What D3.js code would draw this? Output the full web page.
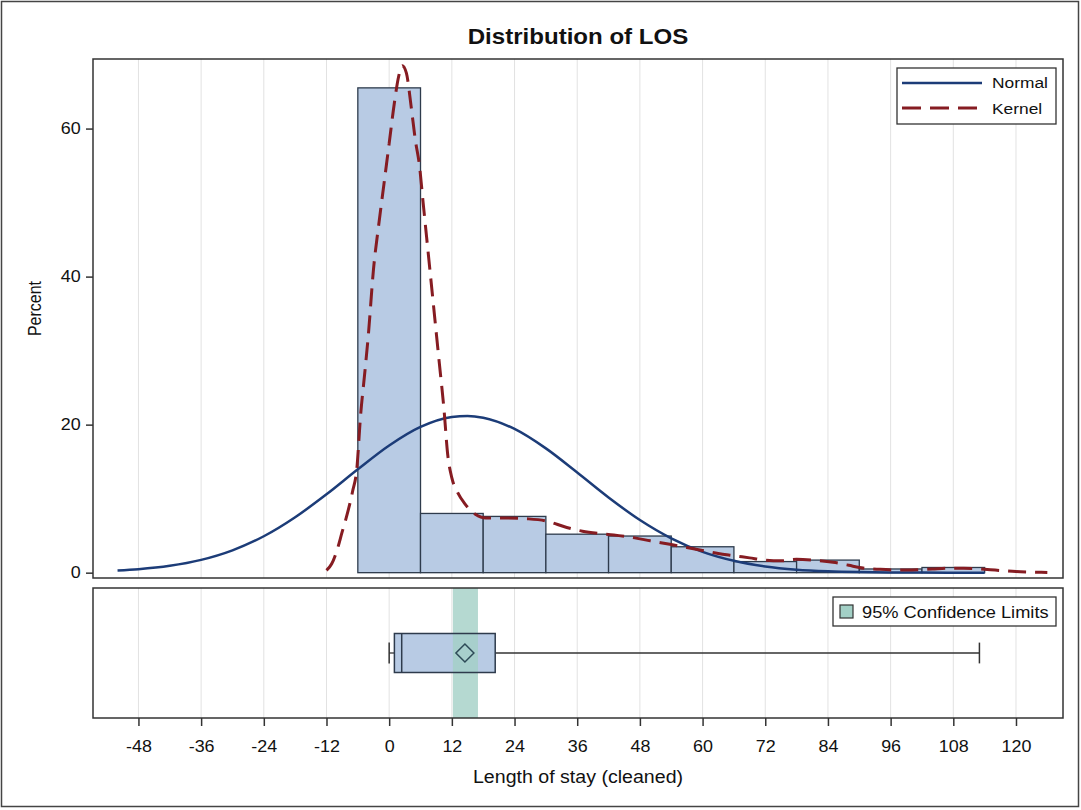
<html>
<head><meta charset="utf-8"></head>
<body style="margin:0; background:#fff">
<div id="chartContainer"></div>
<script src="https://cdnjs.cloudflare.com/ajax/libs/d3/7.8.5/d3.min.js"></script>
<script type="text/javascript">
  // Histogram bins (percent of patients per 12-day bin)
  var binStarts = [-6, 6, 18, 30, 42, 54, 66, 78, 90, 102];
  var binWidth = 12;
  var binPercents = [65.5, 8.0, 7.6, 5.2, 4.95, 3.5, 1.5, 1.7, 0.5, 0.7];

  // Fitted normal curve
  var normalPoints = [[-52, 0.28], [-48, 0.46], [-42, 0.92], [-36, 1.73], [-30, 3.02], [-24, 4.92],
    [-18, 7.49], [-12, 10.59], [-6, 13.97], [0, 17.19], [6, 19.7], [12, 21.04], [15, 21.18],
    [18, 20.94], [24, 19.42], [30, 16.79], [36, 13.53], [42, 10.16], [48, 7.11], [54, 4.64],
    [60, 2.81], [66, 1.6], [72, 0.84], [78, 0.41], [84, 0.19], [90, 0.08], [96, 0.03],
    [102, 0.01], [108, 0.0], [114, 0.0]];

  // Kernel density curve
  var kernelPoints = [[-12, 0.3], [-11, 1.2], [-10, 3.0], [-9, 5.5], [-8, 8.0], [-7, 11], [-6.2, 14],
    [-5.5, 21], [-4.6, 27.5], [-4, 32], [-3, 41], [-2, 47], [-1, 52.5], [0, 58], [1, 63.5],
    [1.8, 67], [2.5, 68.5], [3.3, 67.5], [4.2, 63], [5, 58.5], [5.8, 55], [6.5, 50], [7.5, 43],
    [8.5, 36], [9.5, 29], [10.5, 22], [11.2, 16], [12, 12.8], [13, 11], [14.5, 9.3], [16.5, 7.9],
    [18.5, 7.4], [22, 7.4], [26, 7.3], [30, 7.0], [34, 6.1], [37, 5.6], [40, 5.3], [43, 5.1],
    [47, 4.7], [50, 4.3], [54, 3.8], [57, 3.4], [60, 3.0], [63, 2.6], [66, 2.3], [69, 2.0],
    [72, 1.7], [75, 1.6], [78, 1.8], [81, 1.7], [85, 1.4], [88, 1.0], [90, 0.7], [94, 0.45],
    [98, 0.35], [101, 0.4], [104, 0.5], [107, 0.6], [110, 0.6], [113, 0.5], [116, 0.35],
    [120, 0.15], [123, 0.08], [126, 0.03]];

  // Box plot summary
  var boxMin = 0, boxQ1 = 1, boxMedian = 2.4, boxQ3 = 20.3, boxMax = 113, boxMean = 14.5;
  var clLower = 12.2, clUpper = 17.0;

  // Axis ticks
  var xTicks = [-48, -36, -24, -12, 0, 12, 24, 36, 48, 60, 72, 84, 96, 108, 120];
  var yTicks = [0, 20, 40, 60];

  var font = "'Liberation Sans', Arial, sans-serif";
  var histFill = "#b8cbe4", outline = "#2e3b4c";
  var normalColor = "#1c3c78", kernelColor = "#861c22", clColor = "#a3d0c6";
  var stretch = 1.12;   // the original text renders a little wide

  var svg = d3.select("#chartContainer").append("svg")
    .attr("width", 1081).attr("height", 810)
    .style("font-family", font);

  // adds a horizontally widened text label
  function label(g, px, py, str, size, anchor, weight) {
    return g.append("text")
      .attr("transform", "translate(" + px + "," + py + ") scale(" + stretch + ",1)")
      .attr("text-anchor", anchor || "start")
      .style("font-size", size + "px")
      .style("font-weight", weight || "normal")
      .attr("fill", "#111")
      .text(str);
  }

  // outer border
  svg.append("rect").attr("x", 1.5).attr("y", 1.5).attr("width", 1077).attr("height", 805)
    .attr("fill", "none").attr("stroke", "#444").attr("stroke-width", 1.5);

  // panel bounds
  var left = 93, right = 1063;
  var mainTop = 59, mainBottom = 578;
  var boxTop = 588, boxBottom = 718;

  var x = d3.scaleLinear().domain([-56.7, 129.0]).range([left, right]);
  var y = d3.scaleLinear().domain([-0.72, 69.4]).range([mainBottom, mainTop]);
  var yb = d3.scaleLinear().domain([0, 1]).range([boxBottom, boxTop]);

  // plain hyphen for negatives, like the original
  var plain = function (d) { return String(d); };

  // Title
  label(svg, (left + right) / 2, 44, "Distribution of LOS", 21.5, "middle", "bold");

  // Vertical grid lines in both panels
  [[mainTop, mainBottom], [boxTop, boxBottom]].forEach(function (p) {
    svg.append("g").selectAll("line").data(xTicks).enter().append("line")
      .attr("x1", function (d) { return x(d); }).attr("x2", function (d) { return x(d); })
      .attr("y1", p[0]).attr("y2", p[1])
      .attr("stroke", "#e2e2e2").attr("stroke-width", 1);
  });

  // Histogram bars
  svg.append("g").selectAll("rect").data(binStarts).enter().append("rect")
    .attr("x", function (d) { return x(d); })
    .attr("width", function (d) { return x(d + binWidth) - x(d); })
    .attr("y", function (d, i) { return y(binPercents[i]); })
    .attr("height", function (d, i) { return y(0) - y(binPercents[i]); })
    .attr("fill", histFill).attr("stroke", outline).attr("stroke-width", 1.3);

  var line = d3.line()
    .x(function (d) { return x(d[0]); })
    .y(function (d) { return y(d[1]); })
    .curve(d3.curveMonotoneX);

  svg.append("path").datum(normalPoints).attr("d", line)
    .attr("fill", "none").attr("stroke", normalColor).attr("stroke-width", 2.5);

  svg.append("path").datum(kernelPoints).attr("d", line)
    .attr("fill", "none").attr("stroke", kernelColor).attr("stroke-width", 3)
    .attr("stroke-dasharray", "18,9");

  // Main frame and y axis
  svg.append("rect").attr("x", left).attr("y", mainTop)
    .attr("width", right - left).attr("height", mainBottom - mainTop)
    .attr("fill", "none").attr("stroke", "#333").attr("stroke-width", 1.5);

  var yAxis = svg.append("g").attr("transform", "translate(" + left + ",0)")
    .call(d3.axisLeft(y).tickValues(yTicks).tickFormat(plain).tickSize(7).tickPadding(5));
  yAxis.select(".domain").remove();
  yAxis.selectAll("line").attr("stroke", "#333").attr("stroke-width", 1.5);
  yAxis.selectAll("text").attr("x", -11).attr("transform", "scale(" + stretch + ",1)")
    .style("font-size", "16px").style("font-family", font).attr("fill", "#111");

  svg.append("text")
    .attr("transform", "translate(41," + ((mainTop + mainBottom) / 2 - 10) + ") rotate(-90) scale(1," + stretch + ")")
    .attr("text-anchor", "middle").style("font-size", "16px").attr("fill", "#111")
    .text("Percent");

  // Legend for the curves
  var lg = svg.append("g");
  lg.append("rect").attr("x", 897).attr("y", 68).attr("width", 159).attr("height", 56)
    .attr("fill", "#fff").attr("stroke", "#333").attr("stroke-width", 1.3);
  lg.append("line").attr("x1", 902).attr("x2", 982).attr("y1", 83).attr("y2", 83)
    .attr("stroke", normalColor).attr("stroke-width", 2.5);
  lg.append("line").attr("x1", 902).attr("x2", 982).attr("y1", 108).attr("y2", 108)
    .attr("stroke", kernelColor).attr("stroke-width", 3).attr("stroke-dasharray", "19,9");
  label(lg, 992, 88, "Normal", 15.5);
  label(lg, 992, 114, "Kernel", 15.5);

  // Box plot panel
  var bx = svg.append("g");
  // box fill first, then the confidence band over it, then the outlines
  bx.append("rect").attr("x", x(boxQ1)).attr("y", yb(0.65))
    .attr("width", x(boxQ3) - x(boxQ1)).attr("height", yb(0.35) - yb(0.65))
    .attr("fill", histFill);

  bx.append("rect").attr("x", x(clLower)).attr("y", boxTop)
    .attr("width", x(clUpper) - x(clLower)).attr("height", boxBottom - boxTop)
    .attr("fill", clColor).attr("opacity", 0.8);

  // whiskers
  bx.append("line").attr("x1", x(boxMin)).attr("x2", x(boxQ1)).attr("y1", yb(0.5)).attr("y2", yb(0.5))
    .attr("stroke", "#333").attr("stroke-width", 1.3);
  bx.append("line").attr("x1", x(boxQ3)).attr("x2", x(boxMax)).attr("y1", yb(0.5)).attr("y2", yb(0.5))
    .attr("stroke", "#333").attr("stroke-width", 1.3);
  [boxMin, boxMax].forEach(function (v) {
    bx.append("line").attr("x1", x(v)).attr("x2", x(v)).attr("y1", yb(0.42)).attr("y2", yb(0.58))
      .attr("stroke", "#333").attr("stroke-width", 1.5);
  });
  bx.append("rect").attr("x", x(boxQ1)).attr("y", yb(0.65))
    .attr("width", x(boxQ3) - x(boxQ1)).attr("height", yb(0.35) - yb(0.65))
    .attr("fill", "none").attr("stroke", outline).attr("stroke-width", 1.5);
  bx.append("line").attr("x1", x(boxMedian)).attr("x2", x(boxMedian))
    .attr("y1", yb(0.65)).attr("y2", yb(0.35)).attr("stroke", outline).attr("stroke-width", 1.5);
  // mean marker
  var mx = x(boxMean), my = yb(0.5), r = 9;
  bx.append("path")
    .attr("d", "M" + mx + "," + (my - r) + "L" + (mx + r) + "," + my + "L" + mx + "," + (my + r) + "L" + (mx - r) + "," + my + "Z")
    .attr("fill", "none").attr("stroke", "#2d4a57").attr("stroke-width", 1.5);

  svg.append("rect").attr("x", left).attr("y", boxTop)
    .attr("width", right - left).attr("height", boxBottom - boxTop)
    .attr("fill", "none").attr("stroke", "#333").attr("stroke-width", 1.5);

  // Confidence limits legend
  var cl = svg.append("g");
  cl.append("rect").attr("x", 833).attr("y", 597).attr("width", 223).attr("height", 29)
    .attr("fill", "#fff").attr("stroke", "#333").attr("stroke-width", 1.3);
  cl.append("rect").attr("x", 840).attr("y", 605).attr("width", 13).attr("height", 13)
    .attr("fill", clColor).attr("stroke", "#333").attr("stroke-width", 1.2);
  label(cl, 862, 618, "95% Confidence Limits", 16.3);

  // X axis below the box panel
  var xAxis = svg.append("g").attr("transform", "translate(0," + boxBottom + ")")
    .call(d3.axisBottom(x).tickValues(xTicks).tickFormat(plain).tickSize(8).tickPadding(15));
  xAxis.select(".domain").remove();
  xAxis.selectAll("line").attr("stroke", "#333").attr("stroke-width", 1.5);
  xAxis.selectAll("text").attr("transform", "scale(" + stretch + ",1)")
    .style("font-size", "16px").style("font-family", font).attr("fill", "#111");

  label(svg, (left + right) / 2, 783, "Length of stay (cleaned)", 17.5, "middle");
</script>
</body>
</html>
